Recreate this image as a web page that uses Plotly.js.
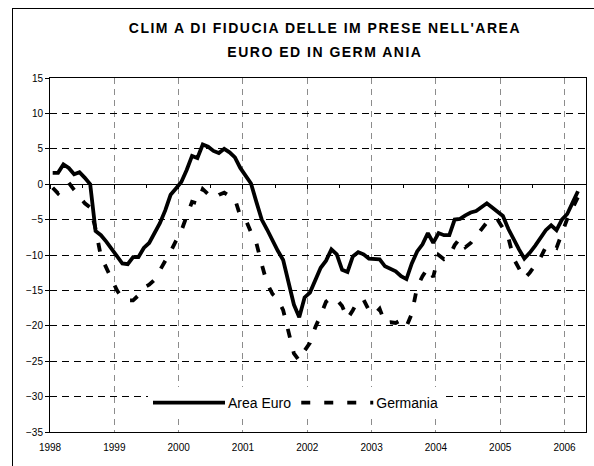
<!DOCTYPE html>
<html><head><meta charset="utf-8">
<script src="https://cdn.plot.ly/plotly-3.0.1.min.js"></script>
<style>
html,body{margin:0;padding:0;background:#fff;}
#wrap{position:relative;width:594px;height:466px;overflow:hidden;}
#chart{width:594px;height:466px;}
#frame{position:absolute;left:12px;top:8px;width:620px;height:500px;border:1px solid #000;pointer-events:none;}
</style></head><body>
<div id="wrap"><div id="chart"></div><div id="frame"></div></div>
<script>
const years = ['1998','1999','2000','2001','2002','2003','2004','2005','2006'];
// monthly values, Jan 1998 - Mar 2006
const areaEuro = [
 1.6, 1.6, 2.8, 2.3, 1.4, 1.7, 0.9, 0.0, -6.6, -7.2, -8.1, -9.1,
 -10.1, -11.2, -11.3, -10.3, -10.3, -9.0, -8.3, -7.0, -5.5, -3.7, -1.5, -0.6,
 0.3, 2.0, 4.0, 3.7, 5.6, 5.3, 4.7, 4.4, 5.0, 4.5, 3.8, 2.3,
 1.3, 0.1, -2.5, -5.0, -6.4, -8.0, -9.4, -10.7, -14.0, -17.0, -18.8, -16.0,
 -15.3, -13.4, -11.8, -10.8, -9.2, -9.9, -12.1, -12.4, -10.2, -9.6, -9.9, -10.5,
 -10.6, -10.6, -11.6, -11.9, -12.3, -13.0, -13.4, -11.2, -9.5, -8.5, -6.9, -8.3,
 -6.9, -7.2, -7.2, -5.0, -4.9, -4.4, -4.0, -3.8, -3.2, -2.7, -3.3, -3.9,
 -4.5, -6.3, -7.8, -9.2, -10.5, -9.7, -8.7, -7.6, -6.5, -5.8, -6.5, -5.0,
 -4.2, -2.6, -1.0
];
const germania = [
 -0.5, -1.3, -0.5, 0.2, -0.8, -1.7, -2.7, -3.3, -6.3, -10.2, -11.8, -13.5,
 -15.0, -16.1, -16.4, -16.4, -15.7, -14.6, -14.2, -13.5, -12.2, -11.0, -9.5, -8.0,
 -6.6, -4.5, -2.5, -2.7, -0.7, -1.4, -2.0, -1.5, -1.2, -1.7, -2.1, -4.5,
 -5.0, -6.8, -8.3, -11.3, -14.0, -15.5, -16.2, -17.8, -21.1, -23.9, -24.9, -23.5,
 -22.4, -20.2, -18.5, -16.6, -16.0, -16.3, -17.2, -19.0, -17.8, -16.4, -16.3, -17.8,
 -18.4, -17.6, -19.6, -19.5, -19.6, -19.2, -20.1, -18.3, -14.5, -13.0, -11.8, -13.1,
 -10.0, -10.6, -10.2, -8.6, -7.6, -8.9, -8.3, -7.3, -6.2, -5.4, -4.8, -5.0,
 -6.2, -7.5, -10.5, -12.0, -13.3, -12.5, -11.5, -10.4, -8.9, -8.6, -9.0, -6.8,
 -4.9, -3.4, -1.8
];
const nCategories = 100;
const monthPos = areaEuro.map((_, i) => i + 0.5);
const yearPos = years.map((_, k) => k * 12);

const FONT = 'Liberation Sans, Arial, sans-serif';

const traces = [
  {x: monthPos, y: areaEuro, name: 'Area Euro', type: 'scatter', mode: 'lines',
   line: {color: '#000', width: 3.8, dash: 'solid'}, xaxis: 'x', yaxis: 'y'},
  {x: monthPos, y: germania, name: 'Germania', type: 'scatter', mode: 'lines',
   line: {color: '#000', width: 3.8, dash: '9px,14px'}, xaxis: 'x2', yaxis: 'y'}
];

const layout = {
  width: 594, height: 466,
  margin: {l: 50, r: 8, t: 78, b: 34},
  paper_bgcolor: '#fff', plot_bgcolor: '#fff',
  showlegend: true,
  title: {
    text: "CLIM A DI FIDUCIA DELLE IM PRESE NELL'AREA<br>EURO ED IN GERM ANIA",
    font: {family: FONT, size: 14, color: '#000', weight: 'bold'},
    x: 0.547, xref: 'container', xanchor: 'center',
    y: 1 - 33/466, yref: 'container', yanchor: 'top'
  },
  xaxis: {
    range: [0, nCategories], tickmode: 'array', tickvals: yearPos, ticktext: years,
    showgrid: true, gridcolor: '#8c8c8c', griddash: '6px,5px', gridwidth: 1,
    ticks: '', showline: true, mirror: true, linecolor: '#000', linewidth: 1,
    zeroline: false, ticklabelstandoff: 6, tickfont: {family: FONT, size: 10, color: '#000'}
  },
  xaxis2: {
    range: [0, nCategories], overlaying: 'x', anchor: 'free', position: 0.7,
    tickmode: 'linear', tick0: 0, dtick: 12, ticks: 'outside', ticklen: 4, tickcolor: '#000',
    showticklabels: false, showgrid: false, zeroline: false, showline: false,
    minor: {tick0: 0, dtick: 6, ticks: 'outside', ticklen: 3, tickcolor: '#000'}
  },
  xaxis3: {
    range: [0, nCategories], overlaying: 'x', anchor: 'free', position: 0.7,
    tickmode: 'linear', tick0: 0, dtick: 12, ticks: 'inside', ticklen: 4, tickcolor: '#000',
    showticklabels: false, showgrid: false, zeroline: false, showline: false
  },
  yaxis: {
    range: [-35, 15], tickmode: 'linear', tick0: -35, dtick: 5,
    showgrid: true, gridcolor: '#000', griddash: '7px,5px', gridwidth: 1,
    zeroline: true, zerolinecolor: '#000', zerolinewidth: 1,
    showline: true, mirror: true, linecolor: '#000', linewidth: 1,
    ticks: 'outside', ticklen: 4, tickcolor: '#000',
    tickfont: {family: FONT, size: 10, color: '#000'}
  },
  legend: {
    orientation: 'h', x: (148 - 50) / 536, xanchor: 'left',
    y: (432 - 403) / 354, yanchor: 'middle',
    bgcolor: '#fff', borderwidth: 0, itemwidth: 70,
    font: {family: FONT, size: 14, color: '#000'}
  }
};

Plotly.newPlot('chart', traces, layout, {displayModeBar: false, staticPlot: true}).then(() => {
  document.querySelectorAll('.legend .traces path.js-line').forEach(p => p.setAttribute('d', 'M5,0h72'));
  const t = document.querySelector('.gtitle');
  if (t) {
    t.style.letterSpacing = '1.5px';
    const lines = t.querySelectorAll('tspan.line');
    if (lines.length > 1) lines[1].setAttribute('dy', '1.7em');
  }
});
</script>
</body></html>
